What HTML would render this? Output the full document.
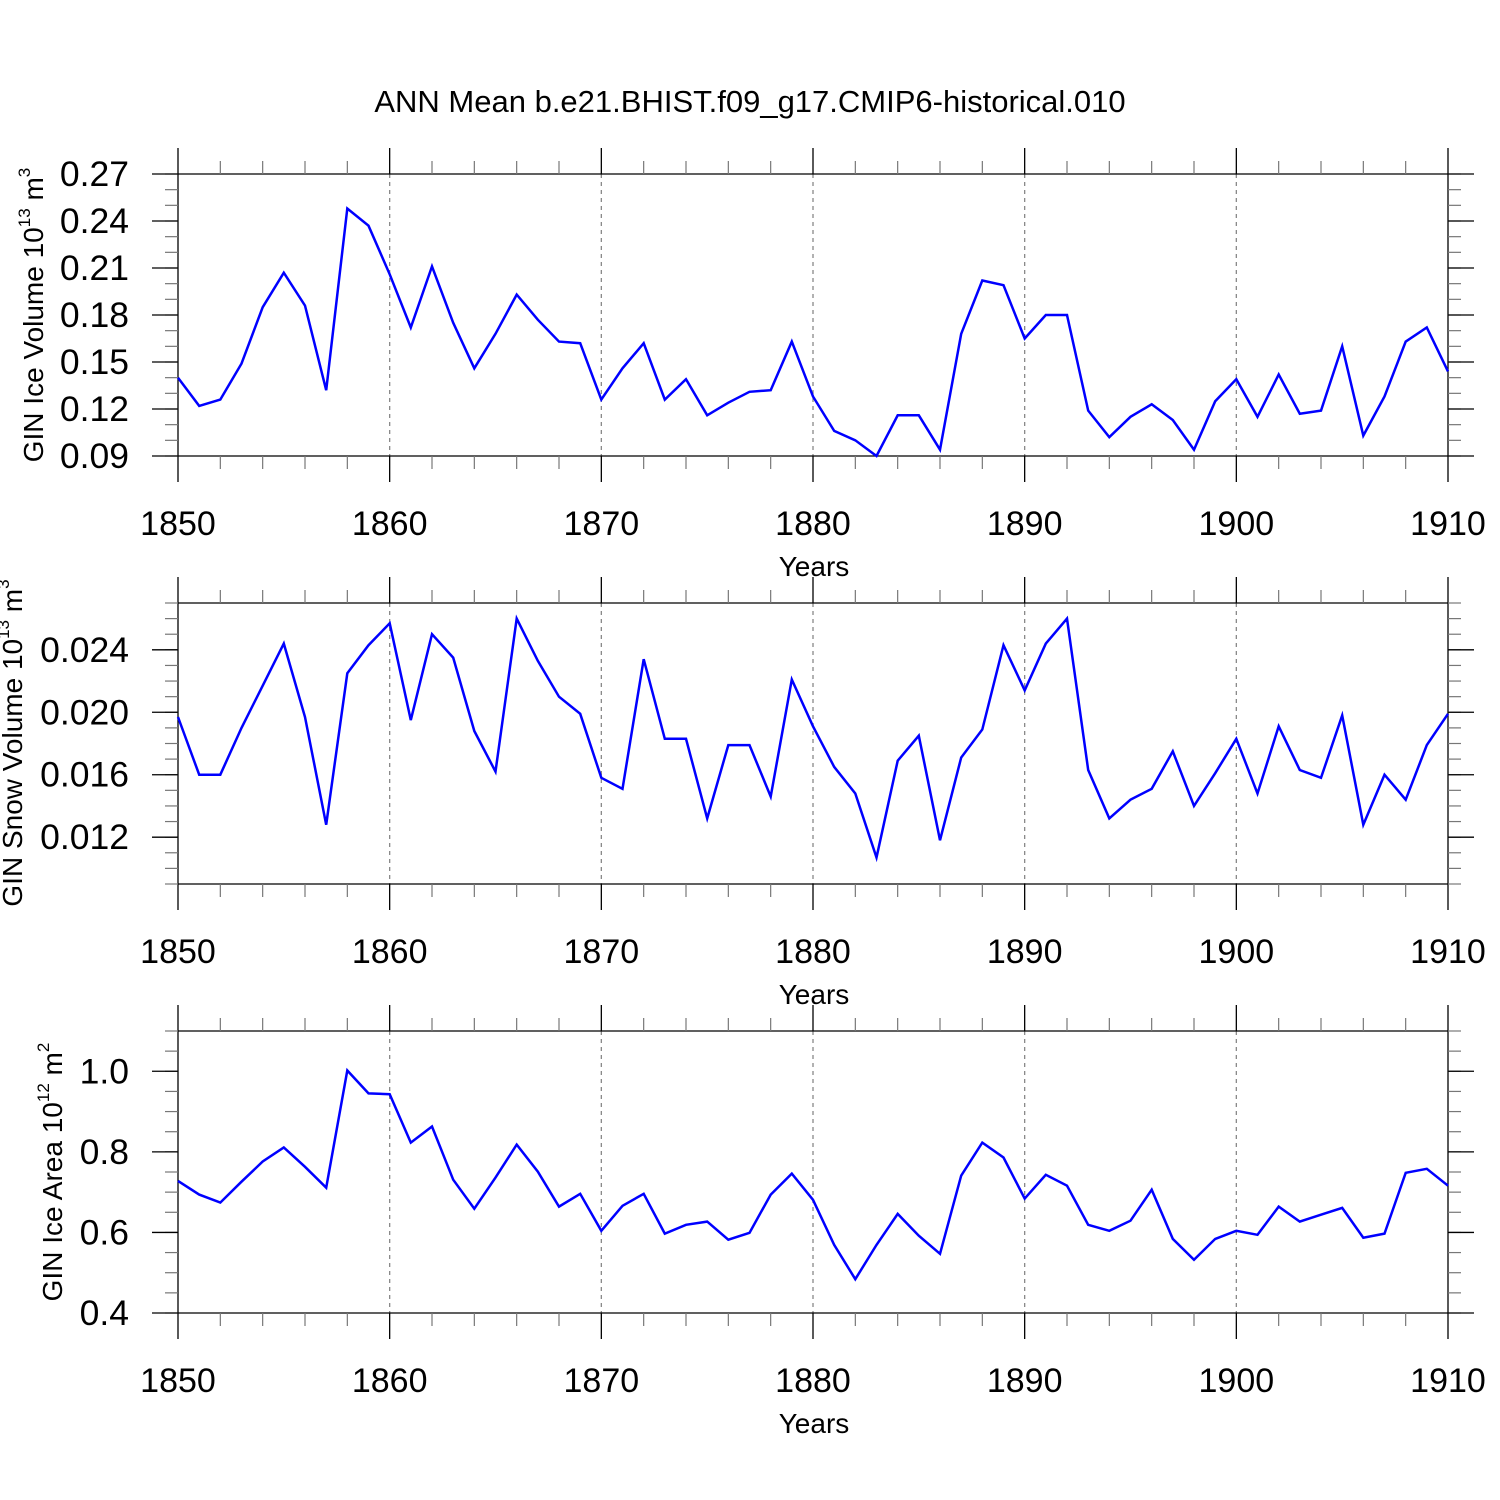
<!DOCTYPE html>
<html><head><meta charset="utf-8"><style>
html,body{margin:0;padding:0;background:#fff;}
svg{display:block;font-family:"Liberation Sans",Arial,sans-serif;}
</style></head><body>
<svg id="chart" width="1500" height="1500" viewBox="0 0 1500 1500" xmlns="http://www.w3.org/2000/svg">
<rect width="1500" height="1500" fill="#fff"/>
<text x="750" y="112" font-size="31" text-anchor="middle">ANN Mean b.e21.BHIST.f09_g17.CMIP6-historical.010</text>
</svg>
<script>
const years = [];
for (let y = 1850; y <= 1910; y++) years.push(y);
const xTicks = [1850,1860,1870,1880,1890,1900,1910];
const iceVolume = [0.140,0.122,0.126,0.149,0.185,0.207,0.186,0.132,0.248,0.237,0.206,0.172,0.211,0.175,0.146,0.168,0.193,0.177,0.163,0.162,0.126,0.146,0.162,0.126,0.139,0.116,0.124,0.131,0.132,0.163,0.128,0.106,0.100,0.090,0.116,0.116,0.094,0.168,0.202,0.199,0.165,0.180,0.180,0.119,0.102,0.115,0.123,0.113,0.094,0.125,0.139,0.115,0.142,0.117,0.119,0.160,0.103,0.128,0.163,0.172,0.144];
const snowVolume = [0.0197,0.0160,0.0160,0.0190,0.0217,0.0244,0.0197,0.0128,0.0225,0.0243,0.0257,0.0195,0.0250,0.0235,0.0188,0.0162,0.0260,0.0233,0.0210,0.0199,0.0158,0.0151,0.0234,0.0183,0.0183,0.0132,0.0179,0.0179,0.0146,0.0221,0.0191,0.0165,0.0148,0.0107,0.0169,0.0185,0.0118,0.0171,0.0189,0.0243,0.0214,0.0244,0.0260,0.0163,0.0132,0.0144,0.0151,0.0175,0.0140,0.0161,0.0183,0.0148,0.0191,0.0163,0.0158,0.0198,0.0128,0.0160,0.0144,0.0179,0.0199];
const iceArea = [0.728,0.694,0.674,0.726,0.776,0.811,0.763,0.711,1.002,0.945,0.943,0.823,0.863,0.731,0.659,0.736,0.818,0.751,0.664,0.696,0.604,0.666,0.696,0.597,0.619,0.627,0.582,0.599,0.694,0.746,0.681,0.569,0.484,0.569,0.646,0.592,0.547,0.741,0.823,0.786,0.684,0.743,0.716,0.619,0.604,0.629,0.706,0.584,0.532,0.584,0.604,0.594,0.664,0.627,0.644,0.661,0.587,0.597,0.748,0.758,0.716];
const yTicks1 = [0.09,0.12,0.15,0.18,0.21,0.24,0.27];
const yLabels1 = ["0.09","0.12","0.15","0.18","0.21","0.24","0.27"];
const yTicks2 = [0.012,0.016,0.020,0.024];
const yLabels2 = ["0.012","0.016","0.020","0.024"];
const yTicks3 = [0.4,0.6,0.8,1.0];
const yLabels3 = ["0.4","0.6","0.8","1.0"];

const NS = "http://www.w3.org/2000/svg";
const svg = document.getElementById('chart');
const X0 = 178, X1 = 1448;
function xScale(v){ return X0 + (v - 1850) / 60 * (X1 - X0); }
function mk(tag, attrs, parent){
  const e = document.createElementNS(NS, tag);
  for (const k in attrs) e.setAttribute(k, attrs[k]);
  (parent || svg).appendChild(e);
  return e;
}

function panel(cfg){
  const g = mk('g', {});
  
  
  const yS = v => cfg.bot - (v - cfg.min) / (cfg.max - cfg.min) * (cfg.bot - cfg.top);
  xTicks.slice(1, -1).forEach(t => {
    const l = mk('line', {x1: xScale(t), x2: xScale(t), y1: cfg.top, y2: cfg.bot, stroke: '#888', 'stroke-width': 1.3, 'stroke-dasharray': '4,4'}, g);
    
    
  });
  const st = {stroke: '#000', 'stroke-width': 1.3};
  mk('line', Object.assign({x1: X0, x2: X1, y1: cfg.top, y2: cfg.top}, st), g);
  mk('line', Object.assign({x1: X0, x2: X1, y1: cfg.bot, y2: cfg.bot}, st), g);
  xTicks.forEach(t => {
    const x = xScale(t);
    if (t === 1850 || t === 1910) {
      mk('line', Object.assign({x1: x, x2: x, y1: cfg.top - 26, y2: cfg.bot + 26}, st), g);
    } else {
      mk('line', Object.assign({x1: x, x2: x, y1: cfg.top - 26, y2: cfg.top}, st), g);
      mk('line', Object.assign({x1: x, x2: x, y1: cfg.bot, y2: cfg.bot + 26}, st), g);
    }
    const lb = mk('text', {x: x, y: cfg.bot + 79, 'font-size': 34, 'text-anchor': 'middle'}, g);
    lb.textContent = t;
    
    
  });
  for (let t = 1852; t < 1910; t += 2) {
    if (t % 10 === 0) continue;
    const x = xScale(t);
    mk('line', {x1: x, x2: x, y1: cfg.top - 13, y2: cfg.top, stroke: '#777', 'stroke-width': 1.2}, g);
    mk('line', {x1: x, x2: x, y1: cfg.bot, y2: cfg.bot + 13, stroke: '#777', 'stroke-width': 1.2}, g);
  }
  const n = Math.round((cfg.max - cfg.min) / cfg.minor);
  for (let i = 0; i <= n; i++) {
    const v = cfg.min + i * cfg.minor, y = yS(v);
    mk('line', {x1: X0 - 13, x2: X0, y1: y, y2: y, stroke: '#777', 'stroke-width': 1.2}, g);
    mk('line', {x1: X1, x2: X1 + 13, y1: y, y2: y, stroke: '#777', 'stroke-width': 1.2}, g);
  }
  cfg.ticks.forEach((v, i) => {
    const y = yS(v);
    mk('line', Object.assign({x1: X0 - 26, x2: X0, y1: y, y2: y}, st), g);
    mk('line', Object.assign({x1: X1, x2: X1 + 26, y1: y, y2: y}, st), g);
    const lb = mk('text', {x: 129, y: y + 12, 'font-size': 35.5, 'text-anchor': 'end'}, g);
    lb.textContent = cfg.labels[i];
    
    
  });
  const xt = mk('text', {x: 814, y: cfg.bot + 120, 'font-size': 28, 'text-anchor': 'middle'}, g);
  xt.textContent = 'Years';
  
  
  const yt = mk('text', {x: 0, y: 0, 'font-size': 28, 'text-anchor': 'middle', transform: `translate(${cfg.tx},${cfg.ty}) rotate(-90)`}, g);
  
  
  yt.innerHTML = cfg.title + ' 10<tspan dy="-13" font-size="17">' + cfg.exp + '</tspan><tspan dy="13"> m</tspan><tspan dy="-13" font-size="17">' + cfg.unitExp + '</tspan>';
  const d = cfg.data.map((v, i) => (i ? 'L' : 'M') + xScale(years[i]).toFixed(1) + ',' + yS(v).toFixed(1)).join('');
  const p = mk('path', {d: d, fill: 'none', stroke: '#0000ff', 'stroke-width': 2.5, 'stroke-linejoin': 'miter'}, g);
  
  
}

panel({name: 'ice-volume-panel', top: 174, bot: 456, min: 0.09, max: 0.27, minor: 0.01, ticks: yTicks1, labels: yLabels1, data: iceVolume, title: 'GIN Ice Volume', exp: '13', unitExp: '3', tx: 43, ty: 315});
panel({name: 'snow-volume-panel', top: 603, bot: 884, min: 0.009, max: 0.027, minor: 0.001, ticks: yTicks2, labels: yLabels2, data: snowVolume, title: 'GIN Snow Volume', exp: '13', unitExp: '3', tx: 22, ty: 743});
panel({name: 'ice-area-panel', top: 1031, bot: 1313, min: 0.4, max: 1.1, minor: 0.05, ticks: yTicks3, labels: yLabels3, data: iceArea, title: 'GIN Ice Area', exp: '12', unitExp: '2', tx: 62, ty: 1172});
</script>
</body></html>
